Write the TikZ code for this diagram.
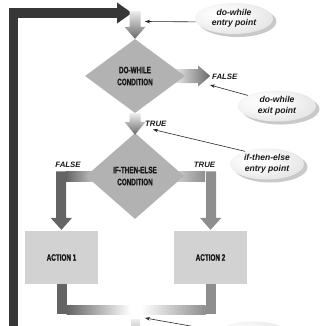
\documentclass[tikz,border=0pt]{standalone}
\usepackage{fontspec}
\setmainfont{Liberation Sans}
\newfontfamily\condfont[FakeStretch=0.68,FakeBold=1.2]{Liberation Sans}
\usetikzlibrary{shapes.geometric,arrows.meta,shadows,calc}

\definecolor{loopbar}{RGB}{55,55,55}
\definecolor{decisionfill}{RGB}{178,178,178}
\definecolor{actionfill}{RGB}{210,210,210}
\definecolor{flowdark}{RGB}{100,100,100}
\definecolor{flowmid}{RGB}{142,142,142}
\definecolor{flowhead}{RGB}{105,105,105}
\definecolor{flowlight}{RGB}{238,238,238}
\definecolor{inktext}{RGB}{25,25,25}

% pale, slightly off-centre fill for the callout ellipses
\pgfdeclareradialshading{notefill}{\pgfpoint{-10bp}{8bp}}{%
  color(0bp)=(white); color(14bp)=(black!3); color(36bp)=(black!12);
  color(50bp)=(black!22); color(64bp)=(black!36)}

\pgfdeclarelayer{back}
\pgfsetlayers{back,main}

\begin{document}
\begin{tikzpicture}[x=1pt, y=-1pt,
  decision/.style={diamond, fill=decisionfill, minimum width=100pt, minimum height=74pt,
    inner sep=0pt, align=center, text=inktext,
    font=\condfont\bfseries\fontsize{9.3}{12}\selectfont},
  action/.style={rectangle, fill=actionfill, minimum width=73pt, minimum height=53pt,
    inner sep=0pt, align=center, text=inktext,
    font=\condfont\bfseries\fontsize{9.3}{12}\selectfont},
  branchlabel/.style={inner sep=0pt, text=inktext,
    font=\fontsize{7.8}{9}\selectfont\bfseries\itshape},
  note/.style={ellipse, shade, shading=notefill, minimum width=78pt, minimum height=31pt,
    inner sep=0pt, align=center, text=inktext,
    font=\fontsize{8.6}{10.5}\selectfont\bfseries\itshape,
    drop shadow={shadow xshift=3.5pt, shadow yshift=-3pt, fill=black!42}},
  notearrow/.style={draw=black!85, line width=0.6pt, -{Stealth[length=5pt, width=3.6pt]}},
]
\useasboundingbox (0,0) rectangle (326,325);
\clip (0,0) rectangle (326,325);

% ---- decisions and actions
\node[decision] (d1) at (135,76) {DO-WHILE\\CONDITION};
\node[decision, minimum width=98pt, minimum height=86pt] (d2) at (135,176) {IF-THEN-ELSE\\CONDITION};
\node[action] (a1) at (61.5,257.5) {ACTION 1};
\node[action] (a2) at (210.5,257.5) {ACTION 2};

% ---- free ends of the flow
\coordinate (loopfoot) at (13.5,340);
\coordinate (loopin) at (132,13);
\coordinate (entry) at (135,11);
\coordinate (merge) at (135.5,319);

\begin{pgfonlayer}{back}
  % loop-back bar into the do-while entry
  \draw[loopbar, line width=9.5pt, line join=miter,
        -{Triangle[length=15pt, width=20pt]}] (loopfoot) |- (loopin);
  % FALSE exit of the do-while test
  \shade[left color=flowlight, right color=flowhead]
    ($(d1.east)+(-12,-7)$) -- ($(d1.east)+(13,-7)$) -- ($(d1.east)+(13,-10.5)$)
    -- ($(d1.east)+(25,0)$) -- ($(d1.east)+(13,10.5)$) -- ($(d1.east)+(13,7)$)
    -- ($(d1.east)+(-12,7)$) -- cycle;
  % horizontal legs of the two branches
  \shade[left color=flowdark, right color=flowlight!90!black]
    ($(d2.west)+(-20,-4.5)$) rectangle ($(d2.west)+(14,5.5)$);
  \shade[left color=flowlight!90!black, right color=flowmid]
    ($(d2.east)+(-14,-4.5)$) rectangle ($(d2.east)+(21,5.5)$);
\end{pgfonlayer}

% entry arrow into the do-while test
\shade[top color=flowlight, bottom color=flowhead]
  ($(entry)+(-5.5,0)$) -- ($(d1.north)+(-5.5,-12)$) -- ($(d1.north)+(-10.5,-12)$)
  -- (d1.north) -- ($(d1.north)+(10.5,-12)$) -- ($(d1.north)+(5.5,-12)$)
  -- ($(entry)+(5.5,0)$) -- cycle;

% TRUE arrow into the if-then-else test
\shade[top color=flowlight, bottom color=flowhead]
  ($(d1.south)+(-5.5,0)$) -- ($(d2.north)+(-5.5,-11)$) -- ($(d2.north)+(-10.5,-11)$)
  -- ($(d2.north)+(0,2)$) -- ($(d2.north)+(10.5,-11)$) -- ($(d2.north)+(5.5,-11)$)
  -- ($(d1.south)+(5.5,0)$) -- cycle;

% FALSE branch down to action 1
\fill[flowdark]
  ($(a1.north)+(-5.5,-59.5)$) -- ($(a1.north)+(4.5,-59.5)$) -- ($(a1.north)+(4.5,-13)$)
  -- ($(a1.north)+(10.5,-13)$) -- ($(a1.north)+(0,-1)$) -- ($(a1.north)+(-11,-13)$)
  -- ($(a1.north)+(-5.5,-13)$) -- cycle;

% TRUE branch down to action 2
\fill[flowmid]
  ($(a2.north)+(-4.5,-59.5)$) -- ($(a2.north)+(5.5,-59.5)$) -- ($(a2.north)+(5.5,-13)$)
  -- ($(a2.north)+(11,-13)$) -- ($(a2.north)+(0,-1)$) -- ($(a2.north)+(-10.5,-13)$)
  -- ($(a2.north)+(-4.5,-13)$) -- cycle;

% both actions join below
\fill[flowdark] ($(a1.south)+(-5,0)$) rectangle ($(a1.south)+(5,30)$);
\shade[left color=flowdark, right color=white]
  ($(a1.south)+(5,21)$) rectangle ($(merge)+(-5,-5)$);
\fill[flowmid] ($(a2.south)+(-5,0)$) rectangle ($(a2.south)+(5,30)$);
\shade[left color=white, right color=flowmid]
  ($(merge)+(5.5,-14)$) rectangle ($(a2.south)+(-5,30)$);
\shade[top color=flowlight, bottom color=black!30]
  ($(merge)+(-4.5,0)$) rectangle ($(merge)+(4.5,16)$);

% ---- branch labels
\node[branchlabel, anchor=west] (lf1) at (212,76.5) {FALSE};
\node[branchlabel, anchor=west] (lt1) at (145,124) {TRUE};
\node[branchlabel] (lf2) at (68,165) {FALSE};
\node[branchlabel] (lt2) at (204.5,165) {TRUE};

% ---- callouts
\node[note] (e1) at (234,18.5) {do-while\\entry point};
\node[note] (e2) at (277,106) {do-while\\exit point};
\node[note, minimum width=74pt] (e3) at (267,164) {if-then-else\\entry point};
\node[note] (e4) at (253,337) {};

\coordinate (t1) at (145,21.5);
\coordinate (t2) at (210,85);
\coordinate (t3) at (153,129.5);
\coordinate (t4) at (145,318);

\draw[notearrow] (e1.185) -- (t1);
\draw[notearrow] (e2.160) -- (t2);
\draw[notearrow] (e3.150) -- (t3);
\draw[notearrow] (e4.170) -- (t4);
\end{tikzpicture}
\end{document}
